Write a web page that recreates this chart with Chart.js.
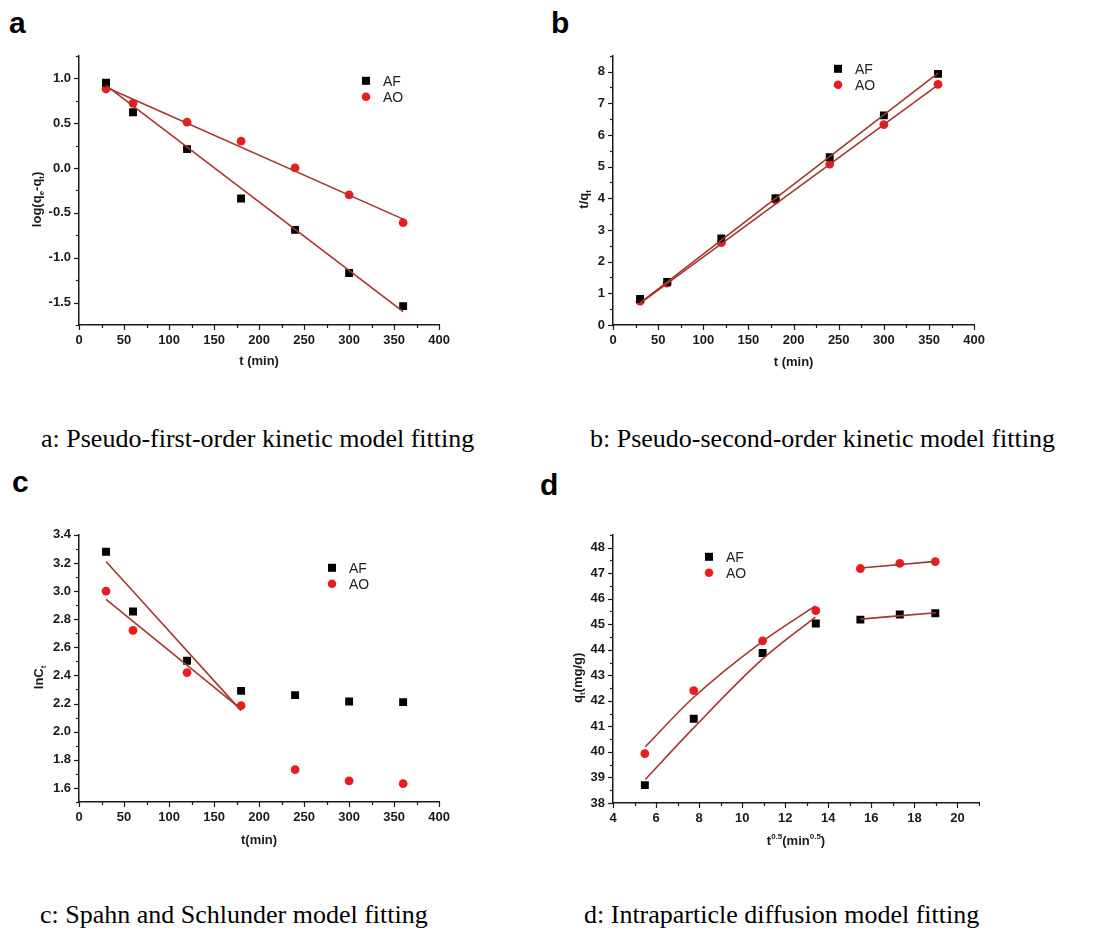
<!DOCTYPE html>
<html>
<head>
<meta charset="utf-8">
<script src="https://cdn.jsdelivr.net/npm/chart.js@4.4.1/dist/chart.umd.min.js"></script>
<style>
  html, body { margin: 0; padding: 0; background: #fff; }
  body { width: 1094px; height: 933px; position: relative; overflow: hidden; }
  canvas { position: absolute; }
  .letter { position: absolute; font: bold 30px "Liberation Sans", Arial, sans-serif; line-height: 1; color: #000; }
  .caption { position: absolute; font: 26px "Liberation Serif", "Times New Roman", serif; line-height: 1; color: #000; white-space: nowrap; }
</style>
</head>
<body>
<div class="letter" style="left:9px;top:8px">a</div>
<div class="letter" style="left:551px;top:8px">b</div>
<div class="letter" style="left:12px;top:467px">c</div>
<div class="letter" style="left:540px;top:470px">d</div>

<canvas id="chartA"></canvas>
<canvas id="chartB"></canvas>
<canvas id="chartC"></canvas>
<canvas id="chartD"></canvas>

<div class="caption" style="left:41px;top:426px">a: Pseudo-first-order kinetic model fitting</div>
<div class="caption" style="left:590px;top:426px">b: Pseudo-second-order kinetic model fitting</div>
<div class="caption" style="left:40px;top:902px">c: Spahn and Schlunder model fitting</div>
<div class="caption" style="left:584px;top:902px">d: Intraparticle diffusion model fitting</div>

<script>
// время отбора проб
const tMin = [30, 60, 120, 180, 240, 300, 360];
const tSqrt = [5.48, 7.75, 10.95, 13.42, 15.49, 17.32, 18.97];

// a: псевдо-первый порядок
const logAF = [0.95, 0.62, 0.21, -0.34, -0.69, -1.17, -1.54];
const logAO = [0.88, 0.72, 0.51, 0.30, 0.00, -0.30, -0.61];
const fitAx = [30, 360];
const fitA_AF = [0.92, -1.60];
const fitA_AO = [0.90, -0.57];

// b: псевдо-второй порядок
const tqAF = [0.82, 1.36, 2.73, 4.00, 5.30, 6.62, 7.93];
const tqAO = [0.75, 1.32, 2.60, 3.95, 5.08, 6.33, 7.60];
const fitBx = [30, 360];
const fitB_AF = [0.70, 7.95];
const fitB_AO = [0.68, 7.58];

// c: Spahn–Schlunder
const lnAF = [3.28, 2.855, 2.505, 2.29, 2.26, 2.215, 2.21];
const lnAO = [3.00, 2.72, 2.42, 2.185, 1.73, 1.65, 1.63];
const fitCx = [30, 180];
const fitC_AF = [3.21, 2.15];
const fitC_AO = [2.94, 2.16];

// d: внутричастичная диффузия
const qAF = [38.70, 41.30, 43.87, 45.03, 45.18, 45.38, 45.43];
const qAO = [39.93, 42.40, 44.35, 45.53, 47.18, 47.38, 47.45];
const fitD1x = [5.5, 7.7, 10.9, 13.4];
const fitD1_AF = [38.92, 40.90, 43.60, 45.28];
const fitD1_AO = [40.20, 42.10, 44.30, 45.72];
const fitD2x = [15.5, 19.0];
const fitD2_AF = [45.20, 45.45];
const fitD2_AO = [47.20, 47.46];

const AXIS = "#1a1a1a";
const RED = "#ea1c20";
const FIT = "#a5352f";
const SANS = '"Liberation Sans", Arial, sans-serif';

const pts = (xs, ys) => xs.map((x, i) => ({ x: x, y: ys[i] }));

// рисуем подписи осей с индексами, засечки и легенду
const paperPlugin = {
  id: "paper",
  afterDraw(chart, args, opts) {
    const ctx = chart.ctx;
    const a = chart.chartArea;
    ctx.save();
    ctx.strokeStyle = AXIS;
    ctx.lineWidth = 1.2;
    const sx = chart.scales.x;
    const sy = chart.scales.y;
    sx.ticks.forEach((t) => {
      const px = Math.round(sx.getPixelForValue(t.value)) + 0.5;
      const len = t.label === "" ? 3 : 5;
      ctx.beginPath();
      ctx.moveTo(px, a.bottom);
      ctx.lineTo(px, a.bottom + len);
      ctx.stroke();
    });
    sy.ticks.forEach((t) => {
      const py = Math.round(sy.getPixelForValue(t.value)) + 0.5;
      const len = t.label === "" ? 3 : 5;
      ctx.beginPath();
      ctx.moveTo(a.left, py);
      ctx.lineTo(a.left - len, py);
      ctx.stroke();
    });

    drawRich(ctx, opts.xTitle, (a.left + a.right) / 2, a.bottom + opts.xTitleGap, false);
    drawRich(ctx, opts.yTitle, a.left - opts.yTitleGap, (a.top + a.bottom) / 2 + 9, true);

    // легенда
    const lx = a.left + opts.legend.dx;
    const ly = a.top + opts.legend.dy;
    ctx.fillStyle = "#000";
    ctx.fillRect(lx - 4, ly - 4, 8, 8);
    ctx.fillStyle = RED;
    ctx.beginPath();
    ctx.arc(lx, ly + 16, 4.3, 0, Math.PI * 2);
    ctx.fill();
    ctx.fillStyle = "#222";
    ctx.font = "14px " + SANS;
    ctx.textBaseline = "middle";
    ctx.textAlign = "left";
    ctx.fillText("AF", lx + 17, ly + 1);
    ctx.fillText("AO", lx + 17, ly + 17);
    ctx.restore();
  },
};

function drawRich(ctx, parts, cx, cy, rotate) {
  ctx.save();
  ctx.translate(cx, cy);
  if (rotate) ctx.rotate(-Math.PI / 2);
  const fontOf = (p) => "bold " + (p.sub || p.sup ? 8 : 13) + "px " + SANS;
  const widths = parts.map((p) => {
    ctx.font = fontOf(p);
    return ctx.measureText(p.t).width;
  });
  let x = -widths.reduce((s, w) => s + w, 0) / 2;
  ctx.fillStyle = "#1a1a1a";
  ctx.textBaseline = "alphabetic";
  ctx.textAlign = "left";
  parts.forEach((p, i) => {
    ctx.font = fontOf(p);
    const dy = p.sub ? 7.5 : p.sup ? -1.5 : 4.5;
    ctx.fillText(p.t, x, dy);
    x += widths[i];
  });
  ctx.restore();
}

function axis(min, max, step, major, digits, afterFit) {
  return {
    type: "linear",
    min: min,
    max: max,
    border: { display: true, color: AXIS, width: 1.5 },
    grid: { display: false, drawTicks: false, tickLength: 0 },
    ticks: {
      stepSize: step,
      autoSkip: false,
      maxRotation: 0,
      padding: 8,
      color: "#1a1a1a",
      font: { family: SANS, size: 13, weight: "bold" },
      callback: (v) => {
        const k = Math.round(v / step);
        const m = Math.round(major / step);
        if (k % m !== 0) return "";
        return (k * step).toFixed(digits);
      },
    },
    afterFit: afterFit,
  };
}

// area = [left, top, right, bottom] – желаемое поле графика на странице
function makeChart(id, area, spec) {
  const padL = 70, padT = 12, padR = 14, padB = 56;
  const cv = document.getElementById(id);
  const w = area[2] - area[0] + padL + padR;
  const h = area[3] - area[1] + padT + padB;
  cv.width = w;
  cv.height = h;
  cv.style.left = area[0] - padL + "px";
  cv.style.top = area[1] - padT + "px";
  cv.style.width = w + "px";
  cv.style.height = h + "px";

  const datasets = [];
  spec.fits.forEach((f) => {
    datasets.push({
      data: pts(f.x, f.y),
      showLine: true,
      borderColor: FIT,
      borderWidth: 1.6,
      pointRadius: 0,
      tension: f.x.length > 2 ? 0.4 : 0,
      cubicInterpolationMode: "monotone",
      order: 0,
    });
  });
  datasets.push({
    label: "AF",
    data: pts(spec.x, spec.af),
    pointStyle: "rect",
    pointRadius: 5.6,
    pointBackgroundColor: "#000",
    pointBorderWidth: 0,
    showLine: false,
    order: 1,
  });
  datasets.push({
    label: "AO",
    data: pts(spec.x, spec.ao),
    pointStyle: "circle",
    pointRadius: 4.4,
    pointBackgroundColor: RED,
    pointBorderWidth: 0,
    showLine: false,
    order: 1,
  });

  return new Chart(cv.getContext("2d"), {
    type: "scatter",
    data: { datasets: datasets },
    options: {
      responsive: false,
      animation: false,
      devicePixelRatio: 1,
      layout: { padding: { left: 0, top: padT, right: padR, bottom: 0 } },
      plugins: {
        legend: { display: false },
        tooltip: { enabled: false },
        paper: spec.paper,
      },
      scales: {
        x: axis(...spec.xAxis, (s) => { s.height = padB; }),
        y: axis(...spec.yAxis, (s) => { s.width = padL; }),
      },
    },
    plugins: [paperPlugin],
  });
}

makeChart("chartA", [79, 52, 444, 325], {
  x: tMin, af: logAF, ao: logAO,
  fits: [{ x: fitAx, y: fitA_AF }, { x: fitAx, y: fitA_AO }],
  xAxis: [0, 400, 25, 50, 0],
  yAxis: [-1.75, 1.25, 0.25, 0.5, 1],
  paper: {
    xTitle: [{ t: "t (min)" }], xTitleGap: 35,
    yTitle: [{ t: "log(q" }, { t: "e", sub: true }, { t: "-q" }, { t: "t", sub: true }, { t: ")" }], yTitleGap: 43,
    legend: { dx: 287, dy: 25 },
  },
});

makeChart("chartB", [613, 52, 979, 325], {
  x: tMin, af: tqAF, ao: tqAO,
  fits: [{ x: fitBx, y: fitB_AF }, { x: fitBx, y: fitB_AO }],
  xAxis: [0, 400, 25, 50, 0],
  yAxis: [0, 8.5, 0.5, 1, 0],
  paper: {
    xTitle: [{ t: "t (min)" }], xTitleGap: 36,
    yTitle: [{ t: "t/q" }, { t: "t", sub: true }], yTitleGap: 30,
    legend: { dx: 225, dy: 13 },
  },
});

makeChart("chartC", [79, 531, 444, 802], {
  x: tMin, af: lnAF, ao: lnAO,
  fits: [{ x: fitCx, y: fitC_AF }, { x: fitCx, y: fitC_AO }],
  xAxis: [0, 400, 25, 50, 0],
  yAxis: [1.5, 3.4, 0.1, 0.2, 1],
  paper: {
    xTitle: [{ t: "t(min)" }], xTitleGap: 37,
    yTitle: [{ t: "lnC" }, { t: "t", sub: true }], yTitleGap: 41,
    legend: { dx: 253, dy: 33 },
  },
});

makeChart("chartD", [613, 531, 979, 803], {
  x: tSqrt, af: qAF, ao: qAO,
  fits: [
    { x: fitD1x, y: fitD1_AF }, { x: fitD1x, y: fitD1_AO },
    { x: fitD2x, y: fitD2_AF }, { x: fitD2x, y: fitD2_AO },
  ],
  xAxis: [4, 21, 1, 2, 0],
  yAxis: [38, 48.5, 0.5, 1, 0],
  paper: {
    xTitle: [{ t: "t" }, { t: "0.5", sup: true }, { t: "(min" }, { t: "0.5", sup: true }, { t: ")" }], xTitleGap: 37,
    yTitle: [{ t: "q" }, { t: "t", sub: true }, { t: "(mg/g)" }], yTitleGap: 36,
    legend: { dx: 96, dy: 22 },
  },
});
</script>
</body>
</html>
